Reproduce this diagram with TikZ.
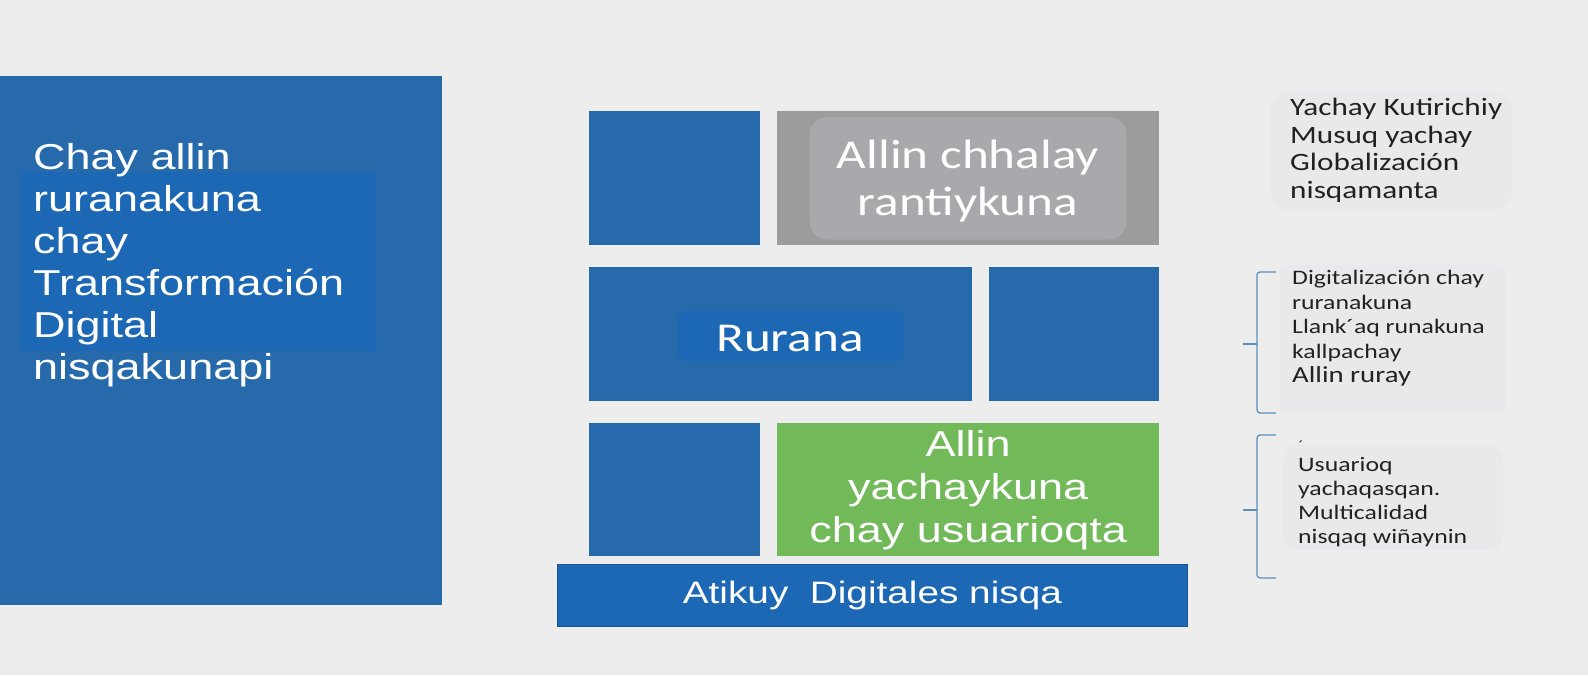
\documentclass[tikz,border=0pt]{standalone}
\usepackage{fontspec}
\setmainfont[FakeStretch=1.25]{Liberation Sans}
\newfontfamily\calibri[FakeStretch=1.25]{Carlito}
\usetikzlibrary{positioning}

\definecolor{paper}{RGB}{237,237,237}
\definecolor{blockblue}{RGB}{38,106,172}
\definecolor{deepblue}{RGB}{28,104,180}
\definecolor{edgeblue}{RGB}{25,85,145}
\definecolor{slabgray}{RGB}{155,156,155}
\definecolor{softgray}{RGB}{168,169,172}
\definecolor{leafgreen}{RGB}{114,185,90}
\definecolor{notegray}{RGB}{232,233,235}
\definecolor{bracecol}{RGB}{91,141,191}
\definecolor{ink}{RGB}{34,34,34}

\begin{document}
\begin{tikzpicture}[x=1pt, y=-1pt,
    tile/.style={fill=blockblue, inner sep=0, anchor=north west},
    note/.style={fill=notegray, inner sep=0, anchor=north west},
    lighttext/.style={text=white, inner sep=0},
    darktext/.style={text=ink, inner sep=0, anchor=north west, align=left},
    brace/.style={draw=bracecol, line width=1.2, rounded corners=3}]
\fill [paper] (0,0) rectangle (1588,675);
\useasboundingbox (0,0) rectangle (1588,675);

% left panel
\node[tile, minimum width=442, minimum height=529] (frame) at (0,76) {};
\node[tile, fill=deepblue, minimum width=356, minimum height=179] (band) at (20,172) {};
\node[lighttext, anchor=north west, align=left, font=\fontsize{36}{42}\selectfont] (goal) at (33,143) {Chay allin\\ruranakuna\\chay\\Transformación\\Digital\\nisqakunapi};

% wall of blocks
\node[tile, minimum width=171, minimum height=134] (r1a) at (589,111) {};
\node[tile, fill=slabgray, minimum width=382, minimum height=134] (r1b) at (777,111) {};
\node[fill=softgray, rounded corners=18, inner sep=0, minimum width=317, minimum height=123] (chhalay-pad) at (r1b.center) {};
\node[lighttext, align=center, font=\calibri\fontsize{41}{47}\selectfont] (chhalay) at (968,181) {Allin chhalay\\rantiykuna};

\node[tile, minimum width=383, minimum height=134] (r2a) at (589,267) {};
\node[tile, minimum width=170, minimum height=134] (r2b) at (989,267) {};
\node[fill=deepblue, rounded corners=8, inner sep=0, minimum width=225, minimum height=50] (rurana-pad) at (790.5,336) {};
\node[lighttext, font=\calibri\fontsize{41}{47}\selectfont] (rurana) at (790,338) {Rurana};

\node[tile, minimum width=171, minimum height=133] (r3a) at (589,423) {};
\node[tile, fill=leafgreen, minimum width=382, minimum height=133] (r3b) at (777,423) {};
\node[lighttext, align=center, font=\fontsize{36}{43}\selectfont] (yachay) at (r3b.center) {Allin\\yachaykuna\\chay usuarioqta};

\node[tile, fill=deepblue, draw=edgeblue, line width=0.8, minimum width=630, minimum height=62] (atikuy-bar) at (557,564) {};
\node[lighttext, font=\fontsize{31}{36}\selectfont] (atikuy) at (atikuy-bar.center) {Atikuy\ \ Digitales nisqa};

% notes on the right
\node[note, rounded corners=20, minimum width=242, minimum height=119] (kuti-pad) at (1270,91) {};
\node[darktext, font=\calibri\fontsize{25}{27.5}\selectfont] (kuti) at (1290,98) {Yachay Kutirichiy\\Musuq yachay\\Globalización\\nisqamanta};

\node[note, rounded corners=4, minimum width=225, minimum height=147] (rura-pad) at (1280,265) {};
\node[darktext, font=\calibri\fontsize{20.6}{24.5}\selectfont] (rura) at (1292,270) {Digitalización chay\\ruranakuna\\Llank´aq runakuna\\kallpachay\\{\fontsize{23}{24.5}\selectfont Allin ruray}};

\node[note, rounded corners=16, minimum width=220, minimum height=105] (usu-pad) at (1283,445) {};
\node[darktext, font=\calibri\fontsize{20.6}{24}\selectfont] (usu) at (1298,457) {Usuarioq\\yachaqasqan.\\Multicalidad\\nisqaq wiñaynin};
\node[text=ink, inner sep=0, font=\calibri\fontsize{14}{14}\selectfont] (tick) at (1301,446) {´};

% braces
\draw[brace] (1276,272) -- (1257,272) -- (1257,413) -- (1276,413);
\draw[brace] (1257,344) -- (1243,344);
\draw[brace] (1276,435) -- (1257,435) -- (1257,578) -- (1276,578);
\draw[brace] (1257,510) -- (1243,510);
\end{tikzpicture}
\end{document}
